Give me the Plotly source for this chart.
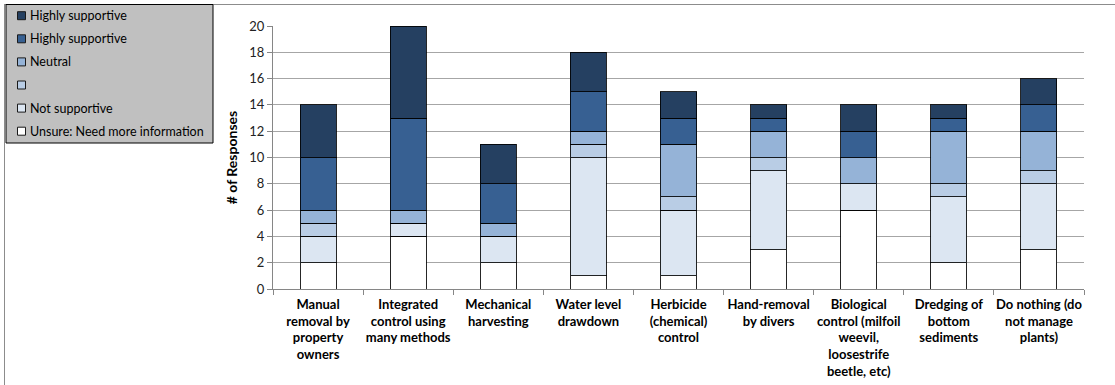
import plotly.graph_objects as go

# Survey categories (x-axis labels, wrapped)
categories = [
    "Manual<br>removal by<br>property<br>owners",
    "Integrated<br>control using<br>many methods",
    "Mechanical<br>harvesting",
    "Water level<br>drawdown",
    "Herbicide<br>(chemical)<br>control",
    "Hand-removal<br>by divers",
    "Biological<br>control (milfoil<br>weevil,<br>loosestrife<br>beetle, etc)",
    "Dredging of<br>bottom<br>sediments",
    "Do nothing (do<br>not manage<br>plants)",
]

# Response counts per category, stacked bottom to top
unsure = [2, 4, 2, 1, 1, 3, 6, 2, 3]
not_supportive = [2, 1, 2, 9, 5, 6, 2, 5, 5]
blank_level = [1, 0, 0, 1, 1, 1, 0, 1, 1]
neutral = [1, 1, 1, 1, 4, 2, 2, 4, 3]
supportive = [4, 7, 3, 3, 2, 1, 2, 1, 2]
highly_supportive = [4, 7, 3, 3, 2, 1, 2, 1, 2]

series = [
    ("Unsure: Need more information", unsure, "#FFFFFF"),
    ("Not supportive", not_supportive, "#DCE6F2"),
    ("", blank_level, "#B9CDE5"),
    ("Neutral", neutral, "#95B3D7"),
    ("Highly supportive", supportive, "#376092"),
    ("Highly supportive", highly_supportive, "#254061"),
]

fig = go.Figure()
for name, vals, color in series:
    fig.add_trace(go.Bar(
        x=categories, y=vals, name=name, showlegend=False,
        marker=dict(color=color, line=dict(color="rgba(0,0,0,0.85)", width=1)),
    ))

W, H = 1115, 385
L, R, T, B = 273, 31, 26, 96
pw, ph = W - L - R, H - T - B


def px_x(x):
    return (x - L) / pw


def px_y(y):
    return 1 + (T - y) / ph


# Frame lines and a hand-built legend box (top entry = last stacked series)
shapes = [
    dict(type="line", xref="paper", yref="paper",
         x0=px_x(4), x1=px_x(1120), y0=px_y(4.5), y1=px_y(4.5),
         line=dict(color="#8C8C8C", width=1)),
    dict(type="line", xref="paper", yref="paper",
         x0=px_x(4.5), x1=px_x(4.5), y0=px_y(4), y1=px_y(390),
         line=dict(color="#8C8C8C", width=1)),
    dict(type="rect", xref="paper", yref="paper",
         x0=px_x(6), x1=px_x(213), y0=px_y(4.5), y1=px_y(143),
         fillcolor="#C0C0C0", line=dict(color="#000000", width=1), layer="above"),
]
annotations = []
row0, row_step = 15.7, 23.1
for k, (name, _, color) in enumerate(reversed(series)):
    cy = row0 + k * row_step
    shapes.append(dict(
        type="rect", xref="paper", yref="paper",
        x0=px_x(17.5), x1=px_x(25.5), y0=px_y(cy - 4), y1=px_y(cy + 4),
        fillcolor=color, line=dict(color="#1A1A1A", width=1), layer="above",
    ))
    if name:
        annotations.append(dict(
            xref="paper", yref="paper", x=px_x(28), y=px_y(cy),
            xanchor="left", yanchor="middle", showarrow=False,
            text=name, font=dict(size=12.5, color="#000000"),
        ))

fig.update_layout(
    width=W, height=H,
    margin=dict(l=L, r=R, t=T, b=B, autoexpand=False),
    paper_bgcolor="white", plot_bgcolor="white",
    barmode="stack", bargap=0.6,
    font=dict(family="Lato, 'Open Sans', sans-serif", size=12, color="#000000"),
    showlegend=False,
    xaxis=dict(
        showline=True, linecolor="#868686", linewidth=1,
        ticks="outside", ticklen=5, tickcolor="#868686", tickson="boundaries",
        tickfont=dict(size=13, color="#000000", family="Lato, sans-serif", weight="bold"),
        tickangle=0, ticklabelstandoff=3,
    ),
    yaxis=dict(
        range=[0, 20], dtick=2, tick0=0,
        showgrid=True, gridcolor="#A6A6A6", gridwidth=1,
        zeroline=False,
        showline=True, linecolor="#868686", linewidth=1,
        ticks="outside", ticklen=5, tickcolor="#868686",
        tickfont=dict(size=13, color="#222222"),
        title=dict(text="# of Responses", standoff=8,
                   font=dict(size=14, color="#000000", weight="bold")),
    ),
    shapes=shapes,
    annotations=annotations,
)

fig.write_html("out.html")
